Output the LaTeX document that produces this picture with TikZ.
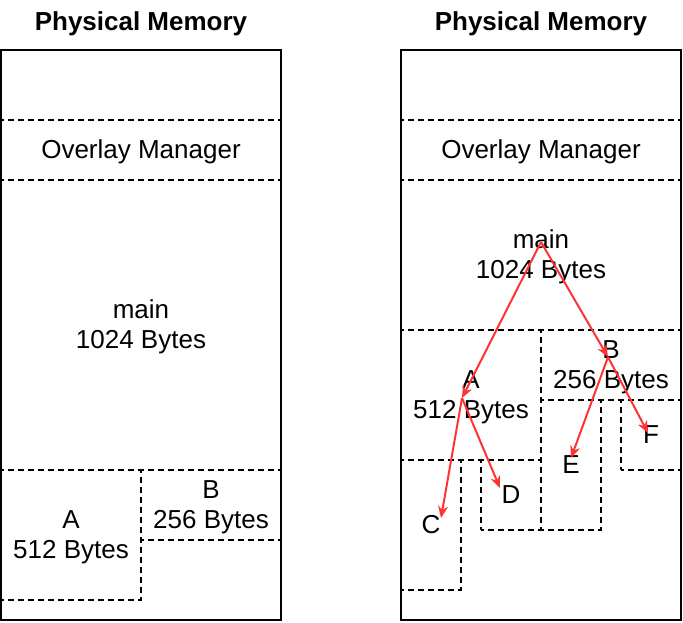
\documentclass[tikz,border=0pt]{standalone}
\usepackage{fontspec}
\setmainfont{Liberation Sans}
\usetikzlibrary{arrows.meta}
\definecolor{arrowred}{HTML}{FF3333}
\newcommand{\lblfont}{\fontsize{26}{30.7}\selectfont}
\newcommand{\lstrut}{\rule[-6.9pt]{0pt}{30.7pt}}
\tikzset{
  outer/.style={draw, line width=1.8pt},
  blk/.style={draw, line width=2pt, dash pattern=on 6pt off 4pt, dash phase=3pt, inner sep=0pt, align=center, font=\lblfont},
  ttl/.style={anchor=base, inner sep=0pt, font=\lblfont\bfseries},
  arr/.style={draw=arrowred, line width=2pt, -{Stealth[length=12pt,width=10pt]}, arrowred}
}
\begin{document}
\begin{tikzpicture}[x=1pt,y=-1pt]
  \useasboundingbox (-1,0) rectangle (682,622);
  % left memory
  \draw[outer] (0,50) rectangle (280,620);
  \node[ttl] (titleL) at (140,30) {Physical Memory};
  \node[blk, minimum width=280pt, minimum height=60pt] (olL) at (140,150) {\lstrut Overlay Manager};
  \node[blk, minimum width=280pt, minimum height=290pt] (mainL) at (140,325) {\lstrut main\\\lstrut 1024 Bytes};
  \node[blk, minimum width=140pt, minimum height=130pt] (AL) at (70,535) {\lstrut A\\\lstrut 512 Bytes};
  \node[blk, minimum width=140pt, minimum height=70pt] (BL) at (210,505) {\lstrut B\\\lstrut 256 Bytes};
  % right memory
  \draw[outer] (400,50) rectangle (680,620);
  \node[ttl] (titleR) at (540,30) {Physical Memory};
  \node[blk, minimum width=280pt, minimum height=60pt] (olR) at (540,150) {\lstrut Overlay Manager};
  \node[blk, minimum width=280pt, minimum height=150pt] (mainR) at (540,255) {\lstrut main\\\lstrut 1024 Bytes};
  \node[blk, minimum width=140pt, minimum height=130pt] (AR) at (470,395) {\lstrut A\\\lstrut 512 Bytes};
  \node[blk, minimum width=140pt, minimum height=70pt] (BR) at (610,365) {\lstrut B\\\lstrut 256 Bytes};
  \node[blk, minimum width=60pt, minimum height=130pt] (C) at (430,525) {\lstrut C};
  \node[blk, minimum width=60pt, minimum height=70pt] (D) at (510,495) {\lstrut D};
  \node[blk, minimum width=60pt, minimum height=130pt] (E) at (570,465) {\lstrut E};
  \node[blk, minimum width=60pt, minimum height=70pt] (F) at (650,435) {\lstrut F};
  % call tree
  \coordinate (pmain) at (540,242);
  \coordinate (pA) at (461,398);
  \coordinate (pB) at (607,357);
  \coordinate (pC) at (440,518);
  \coordinate (pD) at (499,488);
  \coordinate (pE) at (570,458);
  \coordinate (pF) at (647,433);
  \draw[arr] (pmain) -- (pA);
  \draw[arr] (pmain) -- (pB);
  \draw[arr] (pA) -- (pC);
  \draw[arr] (pA) -- (pD);
  \draw[arr] (pB) -- (pE);
  \draw[arr] (pB) -- (pF);
\end{tikzpicture}
\end{document}
